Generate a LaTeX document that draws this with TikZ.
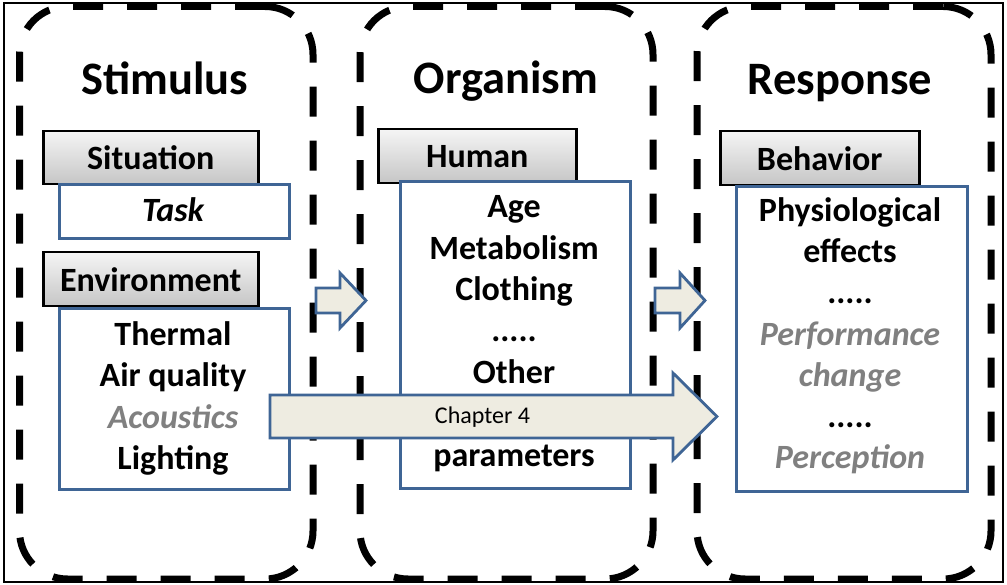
\documentclass[tikz,border=0pt]{standalone}
\usepackage{fontspec}
\setmainfont{Carlito}
\definecolor{bluebd}{HTML}{3F6595}
\definecolor{arrowfill}{HTML}{EEECE1}
\definecolor{graytxt}{HTML}{808080}
\begin{document}
\begin{tikzpicture}[x=1pt,y=-1pt,
  frame/.style={draw=black, line width=7pt, dash pattern=on 30pt off 24pt, rounded corners=48pt, inner sep=0pt},
  hdr/.style={draw=black, line width=2.5pt, top color=gray!8, bottom color=gray!45, font=\bfseries\fontsize{34}{40}\selectfont, anchor=north west, inner sep=0pt},
  cbox/.style={draw=bluebd, line width=2.8pt, fill=white, anchor=north west, inner sep=0pt},
  title/.style={font=\bfseries\fontsize{46.5}{52}\selectfont, anchor=base},
  txt/.style={font=\bfseries\fontsize{34}{41}\selectfont, anchor=base, inner sep=0pt},
  gtxt/.style={txt, font=\bfseries\itshape\fontsize{34}{41}\selectfont, text=graytxt},
  blockarrow/.style={draw=bluebd, line width=2.8pt, fill=arrowfill, line join=miter}
]
\useasboundingbox (0,0) rectangle (1007,585);
\draw[line width=1.5pt] (4,3) rectangle (1003,582);

% dashed frames
\node[frame, minimum width=293.5pt, minimum height=572.5pt] (stim) at (166.25,292.75) {};
\node[frame, minimum width=293pt, minimum height=572.5pt] (org) at (506.5,292.75) {};
\node[frame, minimum width=294pt, minimum height=572.5pt] (resp) at (844,292.75) {};

% titles
\node[title] (tS) at (165,95) {Stimulus};
\node[title] (tO) at (506,94) {Organism};
\node[title] (tR) at (840,95) {Response};

% Stimulus column
\node[hdr, minimum width=215pt, minimum height=53pt] (sit) at (42,130) {Situation};
\node[cbox, minimum width=230pt, minimum height=54pt] (task) at (58,183) {};
\node[txt, font=\bfseries\itshape\fontsize{34}{41}\selectfont] (taskt) at (173,222) {Task};
\node[hdr, minimum width=215pt, minimum height=54pt] (env) at (42,251) {Environment};
\node[cbox, minimum width=230pt, minimum height=181pt] (envb) at (58,307) {};
\node[txt] (e1) at (173,345) {Thermal};
\node[txt] (e2) at (173,386.5) {Air quality};
\node[gtxt] (e3) at (173,428) {Acoustics};
\node[txt] (e4) at (173,469.5) {Lighting};

% Organism column
\node[hdr, minimum width=198pt, minimum height=54pt] (hum) at (377,128) {Human};
\node[cbox, minimum width=230pt, minimum height=307pt] (humb) at (399,180) {};
\node[txt] (h1) at (514,218) {Age};
\node[txt] (h2) at (514,259.3) {Metabolism};
\node[txt] (h3) at (514,300.6) {Clothing};
\node[txt] (h4) at (514,341.9) {.....};
\node[txt] (h5) at (514,383.2) {Other};
\node[txt] (h7) at (514,466) {parameters};

% Response column
\node[hdr, minimum width=199pt, minimum height=54pt] (beh) at (719,130) {Behavior};
\node[cbox, minimum width=231pt, minimum height=305pt] (behb) at (735,185) {};
\node[txt] (r1) at (850,222) {Physiological};
\node[txt] (r2) at (850,263) {effects};
\node[txt] (r3) at (850,304) {.....};
\node[gtxt] (r4) at (850,345) {Performance};
\node[gtxt] (r5) at (850,386.5) {change};
\node[txt] (r6) at (850,427.5) {.....};
\node[gtxt] (r7) at (850,468) {Perception};

% block arrows
\draw[blockarrow] (316,288) -- (340,288) -- (340,273) -- (366,300.5) -- (340,328) -- (340,313) -- (316,313) -- cycle;
\draw[blockarrow] (655,288) -- (680,288) -- (680,273) -- (705,300.5) -- (680,328) -- (680,313) -- (655,313) -- cycle;
\draw[blockarrow] (270,395) -- (673,395) -- (673,373) -- (717,416.5) -- (673,460) -- (673,438) -- (270,438) -- cycle;
\node[font=\fontsize{24}{28}\selectfont, anchor=base, inner sep=0pt] (ch4) at (482.5,423) {Chapter 4};
\end{tikzpicture}
\end{document}
